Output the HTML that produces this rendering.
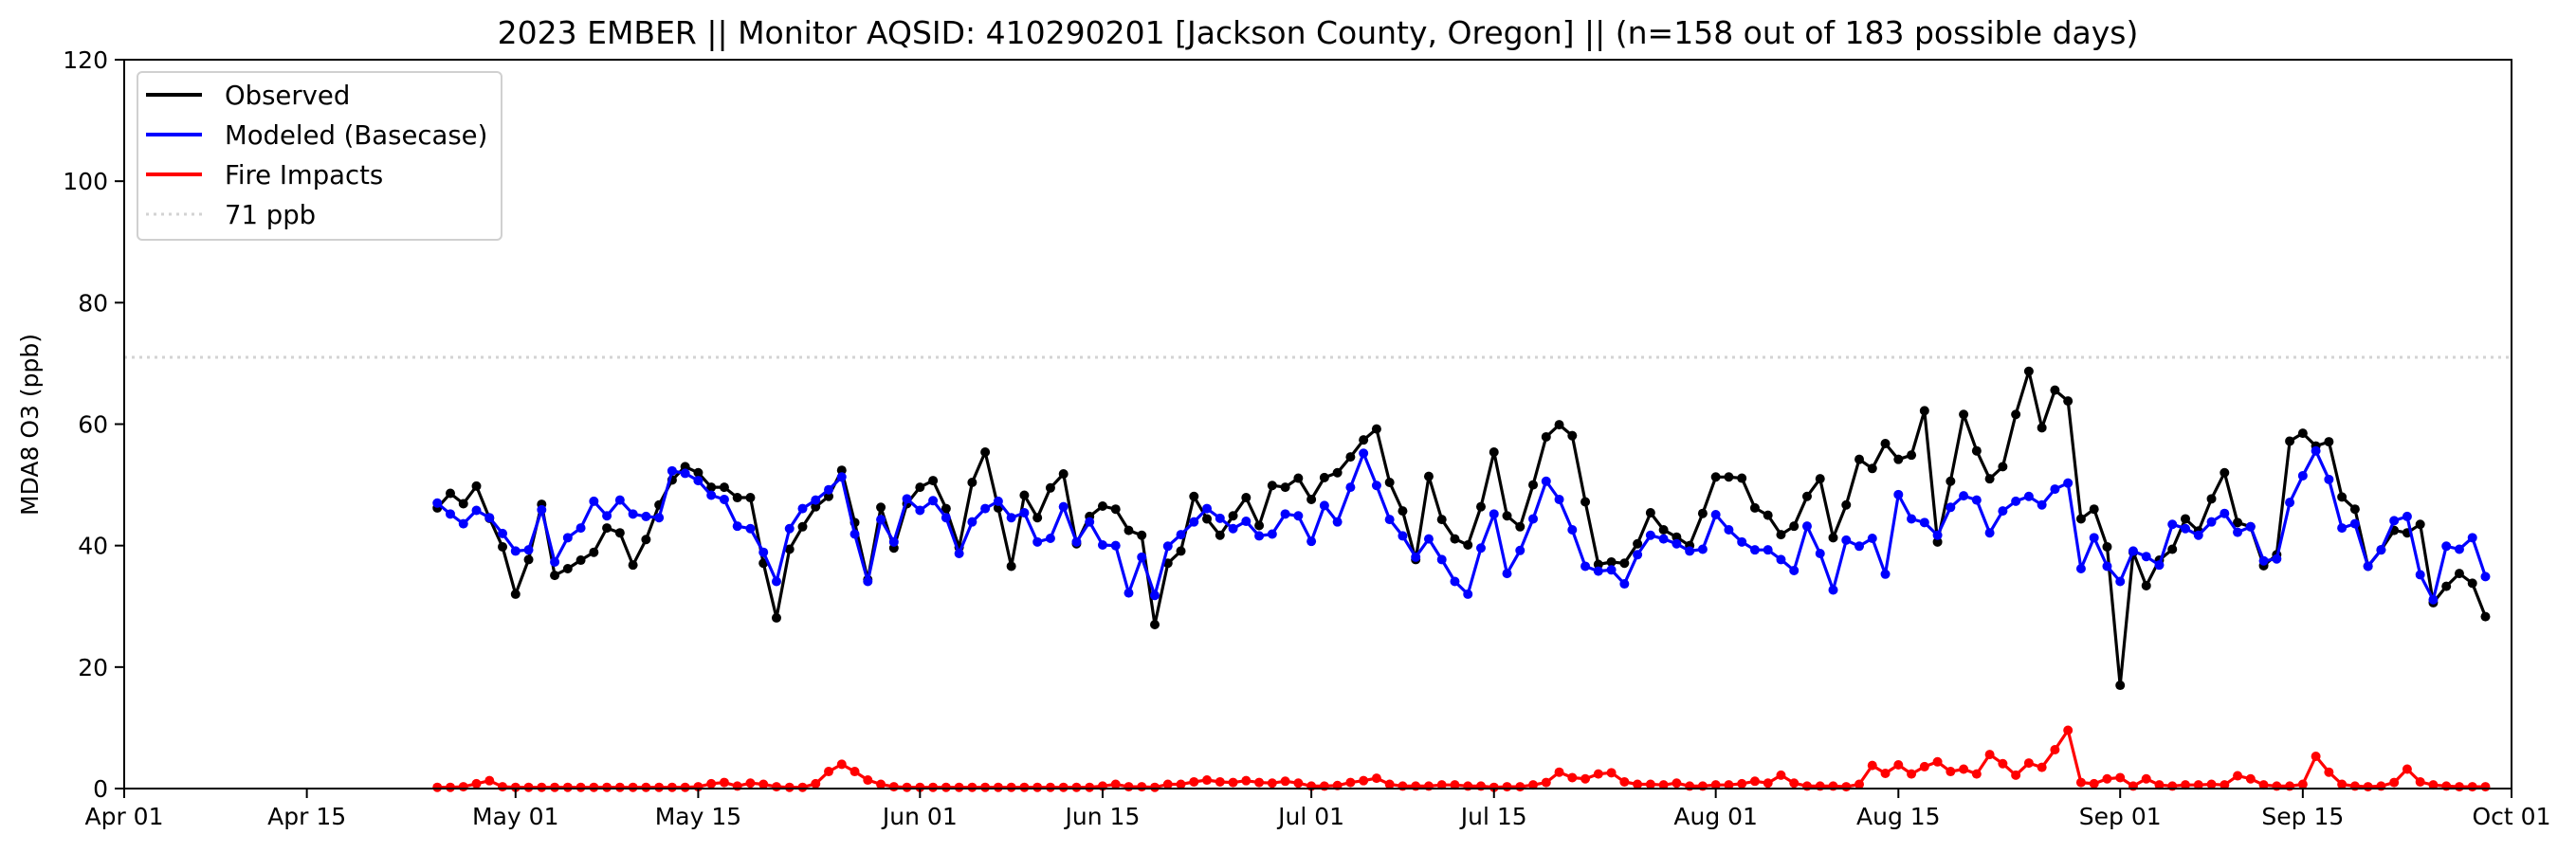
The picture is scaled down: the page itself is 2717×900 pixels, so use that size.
<!DOCTYPE html>
<html><head><meta charset="utf-8"><style>
html,body{margin:0;padding:0;background:#fff;}
svg{display:block;font-family:"DejaVu Sans","Liberation Sans",sans-serif;}
</style></head><body>
<svg id="chart" width="2717" height="900" viewBox="0 0 2717 900" xmlns="http://www.w3.org/2000/svg">
<rect x="0" y="0" width="2717" height="900" fill="#fff"/>
<text x="1390" y="46" font-size="33" text-anchor="middle">2023 EMBER || Monitor AQSID: 410290201 [Jackson County, Oregon] || (n=158 out of 183 possible days)</text>
<text transform="translate(40,448) rotate(-90)" font-size="25" text-anchor="middle">MDA8 O3 (ppb)</text>
<g id="grid"></g>
<g id="series"></g>
<rect x="131" y="63" width="2518" height="769" fill="none" stroke="#000" stroke-width="2"/>
<g id="axes"></g>
<g>
<rect x="145" y="76" width="384" height="177" rx="5" fill="#fff" fill-opacity="0.8" stroke="#d0d0d0" stroke-width="2"/>
<line x1="154" y1="100" x2="213" y2="100" stroke="#000" stroke-width="4"/>
<text x="237" y="110" font-size="27.5">Observed</text>
<line x1="154" y1="142" x2="213" y2="142" stroke="#0000ff" stroke-width="4"/>
<text x="237" y="152" font-size="27.5">Modeled (Basecase)</text>
<line x1="154" y1="184" x2="213" y2="184" stroke="#ff0000" stroke-width="4"/>
<text x="237" y="194" font-size="27.5">Fire Impacts</text>
<line x1="154" y1="226" x2="213" y2="226" stroke="#d3d3d3" stroke-width="3" stroke-dasharray="3,5"/>
<text x="237" y="236" font-size="27.5">71 ppb</text>
</g>
</svg>
<script>
const startDayOffset = 24; // Apr 25 = day 24 after Apr 01
const observed = [46.2,48.6,46.9,49.8,44.5,39.8,32.0,37.7,46.8,35.1,36.2,37.6,38.9,42.9,42.1,36.8,41.0,46.7,50.8,53.0,52.0,49.6,49.6,47.9,47.9,37.1,28.1,
39.4,43.1,46.4,48.1,52.4,43.8,34.4,46.3,39.6,46.9,49.6,50.7,46.1,39.7,50.4,55.4,46.2,36.6,48.3,44.6,49.5,51.8,40.3,44.8,46.5,46.0,42.5,
41.7,27.0,37.1,39.1,48.1,44.4,41.7,44.9,47.9,43.3,49.9,49.6,51.1,47.6,51.2,52.0,54.6,57.4,59.2,50.4,45.7,37.7,51.4,44.3,41.1,40.1,46.4,
55.4,44.9,43.1,50.0,57.9,59.9,58.1,47.2,36.9,37.3,37.1,40.3,45.4,42.6,41.4,40.0,45.3,51.3,51.3,51.1,46.2,45.0,41.8,43.2,48.1,51.0,41.3,
46.7,54.2,52.7,56.8,54.2,54.9,62.2,40.6,50.6,61.6,55.6,51.0,53.0,61.6,68.7,59.4,65.6,63.8,44.4,46.0,39.8,17.0,38.9,33.4,37.6,39.4,44.4,
42.4,47.7,52.0,43.8,43.1,36.7,38.5,57.2,58.5,56.4,57.1,48.0,46.0,36.6,39.3,42.5,42.1,43.5,30.6,33.3,35.4,33.8,28.3];
const modeled = [47.0,45.2,43.6,45.8,44.6,42.0,39.1,39.3,45.9,37.3,41.3,42.9,47.3,44.9,47.5,45.2,44.8,44.6,52.3,51.9,50.7,48.3,47.6,43.2,42.8,38.9,34.1,
42.8,46.1,47.5,49.2,51.3,41.9,34.1,44.3,40.6,47.7,45.8,47.4,44.6,38.7,43.9,46.1,47.3,44.6,45.4,40.6,41.2,46.4,40.6,43.9,40.1,40.0,32.2,
38.1,31.8,39.9,41.8,43.9,46.1,44.5,42.8,44.0,41.6,41.9,45.2,44.9,40.7,46.6,43.9,49.6,55.2,49.9,44.3,41.6,38.1,41.1,37.7,34.1,32.0,39.6,
45.2,35.4,39.2,44.4,50.6,47.6,42.6,36.6,35.8,36.0,33.7,38.5,41.7,41.1,40.3,39.1,39.4,45.1,42.6,40.6,39.3,39.3,37.7,35.9,43.2,38.7,32.7,
40.9,39.9,41.2,35.3,48.4,44.4,43.8,41.7,46.3,48.2,47.5,42.1,45.7,47.3,48.1,46.7,49.3,50.3,36.2,41.3,36.6,34.1,39.1,38.2,36.8,43.5,42.8,
41.7,43.9,45.3,42.2,43.1,37.5,37.8,47.1,51.5,55.6,50.9,42.9,43.6,36.6,39.3,44.1,44.8,35.2,31.1,39.9,39.4,41.3,34.9];
const fire = [0.2,0.2,0.3,0.8,1.3,0.3,0.2,0.2,0.2,0.2,0.2,0.2,0.2,0.2,0.2,0.2,0.2,0.2,0.2,0.2,0.3,0.8,1.0,0.4,0.9,0.7,0.3,
0.2,0.2,0.8,2.8,4.0,2.8,1.4,0.7,0.3,0.2,0.2,0.2,0.2,0.2,0.2,0.2,0.2,0.2,0.2,0.2,0.2,0.2,0.2,0.2,0.4,0.7,0.3,
0.3,0.2,0.7,0.7,1.1,1.4,1.1,1.0,1.3,1.0,0.9,1.2,0.9,0.4,0.4,0.5,1.0,1.3,1.7,0.7,0.4,0.4,0.4,0.6,0.6,0.4,0.4,
0.2,0.3,0.3,0.6,1.0,2.7,1.8,1.6,2.4,2.6,1.1,0.7,0.7,0.6,0.9,0.4,0.4,0.6,0.6,0.8,1.2,0.9,2.2,0.9,0.4,0.4,0.4,
0.3,0.7,3.8,2.5,3.9,2.4,3.6,4.4,2.8,3.2,2.4,5.6,4.1,2.2,4.2,3.5,6.4,9.6,1.0,0.8,1.6,1.8,0.4,1.6,0.6,0.4,0.6,
0.6,0.7,0.6,2.1,1.6,0.6,0.4,0.4,0.7,5.3,2.7,0.7,0.4,0.3,0.4,1.0,3.2,1.1,0.6,0.4,0.3,0.3,0.3];
const xTickDays = [0,14,30,44,61,75,91,105,122,136,153,167,183];
const xTickLabels = ["Apr 01","Apr 15","May 01","May 15","Jun 01","Jun 15","Jul 01","Jul 15","Aug 01","Aug 15","Sep 01","Sep 15","Oct 01"];
const yTicks = [0,20,40,60,80,100,120];
const threshold = 71;

const NS = "http://www.w3.org/2000/svg";
const X0 = 131, X1 = 2649, Y0 = 832, Y1 = 63, DAYS = 183, YMAX = 120;
function xScale(d){ return X0 + d * (X1 - X0) / DAYS; }
function yScale(v){ return Y0 - v * (Y0 - Y1) / YMAX; }
function mk(tag, attrs){ const e = document.createElementNS(NS, tag); for (const k in attrs) e.setAttribute(k, attrs[k]); return e; }

const axes = document.getElementById('axes');
xTickDays.forEach((d, i) => {
  const x = xScale(d);
  const t = mk('line', {x1:x, y1:Y0, x2:x, y2:Y0+10, stroke:'#000', 'stroke-width':2});
  
  
  axes.appendChild(t);
  const lb = mk('text', {x:x, y:Y0+38, 'font-size':25, 'text-anchor':'middle'});
  
  
  lb.textContent = xTickLabels[i];
  axes.appendChild(lb);
});
yTicks.forEach(v => {
  const y = yScale(v);
  const t = mk('line', {x1:X0-10, y1:y, x2:X0, y2:y, stroke:'#000', 'stroke-width':2});
  
  
  axes.appendChild(t);
  const lb = mk('text', {x:X0-17, y:y+9, 'font-size':25, 'text-anchor':'end'});
  
  
  lb.textContent = String(v);
  axes.appendChild(lb);
});

const grid = document.getElementById('grid');
const th = mk('line', {x1:X0, y1:yScale(threshold), x2:X1, y2:yScale(threshold), stroke:'#d3d3d3', 'stroke-width':3, 'stroke-dasharray':'3,5'});


grid.appendChild(th);

const seriesG = document.getElementById('series');
function drawSeries(vals, color, name){
  const g = mk('g', {});
  
  
  const pts = vals.map((v, i) => xScale(startDayOffset + i).toFixed(1) + ',' + yScale(v).toFixed(1)).join(' ');
  const pl = mk('polyline', {points:pts, fill:'none', stroke:color, 'stroke-width':3.2, 'stroke-linejoin':'round'});
  
  
  g.appendChild(pl);
  vals.forEach((v, i) => {
    const c = mk('circle', {cx:xScale(startDayOffset + i), cy:yScale(v), r:5, fill:color});
    
    
    g.appendChild(c);
  });
  seriesG.appendChild(g);
}
drawSeries(observed, '#000000', 'observed');
drawSeries(modeled, '#0000ff', 'modeled');
drawSeries(fire, '#ff0000', 'fire-impacts');
</script>
</body></html>
